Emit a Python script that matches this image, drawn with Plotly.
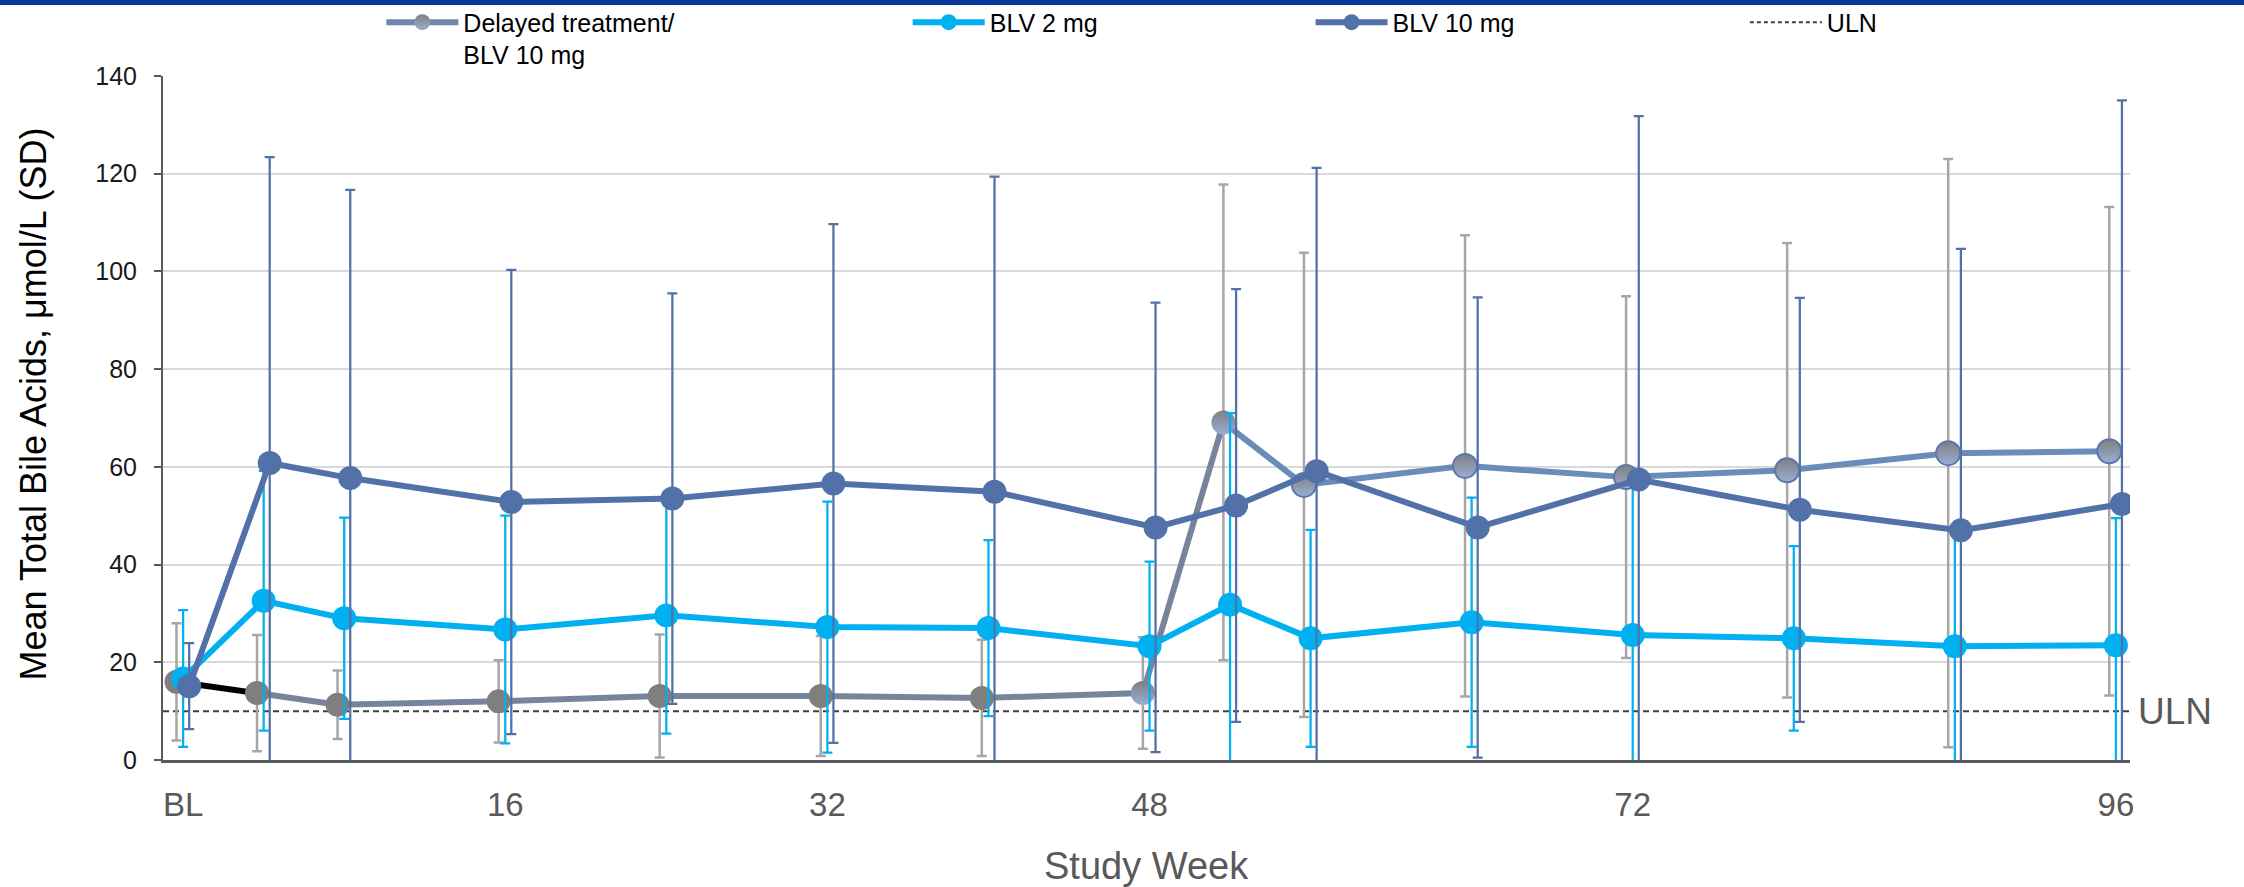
import plotly.graph_objects as go

# ---------------- data ----------------
weeks = [0, 4, 8, 16, 24, 32, 40, 48, 52, 56, 64, 72, 80, 88, 96]

delayed_mean = [16.0, 13.7, 11.3, 12.0, 13.1, 13.1, 12.7, 13.7, 69.1, 56.3, 60.2, 57.9, 59.3, 62.8, 63.2]
delayed_sd = [12.0, 11.9, 7.0, 8.4, 12.6, 12.3, 11.9, 11.4, 48.7, 47.5, 47.2, 37.0, 46.5, 60.2, 50.0]

blv2_mean = [16.7, 32.6, 29.0, 26.7, 29.6, 27.2, 27.0, 23.3, 31.8, 24.9, 28.2, 25.6, 24.9, 23.3, 23.5]
blv2_sd = [14.0, 26.6, 20.6, 23.3, 24.2, 25.7, 18.0, 17.3, 39.2, 22.2, 25.5, 31.9, 18.9, 24.5, 26.0]

blv10_mean = [15.1, 60.8, 57.7, 52.8, 53.5, 56.6, 54.9, 47.6, 52.1, 59.1, 47.6, 57.4, 51.2, 47.0, 52.4]
blv10_sd = [8.8, 62.6, 59.0, 47.5, 42.0, 53.1, 64.5, 46.0, 44.3, 62.1, 47.1, 74.4, 43.4, 57.6, 82.6]

uln_value = 10

tick_vals = [0, 16, 32, 48, 72, 96]
tick_text = ["BL", "16", "32", "48", "72", "96"]

series_names = ["Delayed treatment/<br>BLV 10 mg", "BLV 2 mg", "BLV 10 mg", "ULN"]
x_title = "Study Week"
y_title = "Mean Total Bile Acids, μmol/L (SD)"

# ---------------- style ----------------
FONT = "Liberation Sans, Arial, sans-serif"
C_GRAY = "#7f7f7f"
C_GRAY_ERR = "#a6a6a6"
C_2 = "#00b0f0"
C_10 = "#5271a8"
GRAD = "#9aaed4"
GRAY_SHIFT = -0.33
HI_SHIFT = 0.30
MS = 24
LW = 6

x_gray = [w + GRAY_SHIFT for w in weeks]
x_2 = list(weeks)
x_10 = [w + HI_SHIFT for w in weeks]

n = len(weeks)
grad_types = ["none"] * 7 + ["vertical"] * (n - 7)
outline_w = [0] * 9 + [2] * (n - 9)

fig = go.Figure()

# delayed-treatment line segments (different colours per phase)
segments = [(0, 2, "#000000"), (1, 9, "#77859c"), (8, n, "#6b8bb8")]
for a, b, col in segments:
    fig.add_trace(go.Scatter(x=x_gray[a:b], y=delayed_mean[a:b], mode="lines",
                             line=dict(color=col, width=LW), showlegend=False,
                             hoverinfo="skip"))

# delayed-treatment markers + SD bars
fig.add_trace(go.Scatter(
    x=x_gray, y=delayed_mean, mode="markers", showlegend=False,
    error_y=dict(type="data", array=delayed_sd, visible=True, color=C_GRAY_ERR,
                 thickness=2.5, width=5),
    marker=dict(size=MS, color=C_GRAY,
                gradient=dict(type=grad_types, color=GRAD),
                line=dict(width=outline_w, color="#5a78ad"))))

# BLV 2 mg
fig.add_trace(go.Scatter(
    x=x_2, y=blv2_mean, mode="lines+markers", name=series_names[1], legend="legend2",
    line=dict(color=C_2, width=LW),
    marker=dict(size=MS, color=C_2),
    error_y=dict(type="data", array=blv2_sd, visible=True, color=C_2, thickness=2.25, width=5)))

# BLV 10 mg
fig.add_trace(go.Scatter(
    x=x_10, y=blv10_mean, mode="lines+markers", name=series_names[2], legend="legend3",
    line=dict(color=C_10, width=LW),
    marker=dict(size=MS, color=C_10),
    error_y=dict(type="data", array=blv10_sd, visible=True, color=C_10, thickness=2.25, width=5)))

# legend-only entries
fig.add_trace(go.Scatter(
    x=[None], y=[None], mode="lines+markers", name=series_names[0], legend="legend",
    line=dict(color="#6f87ad", width=LW),
    marker=dict(size=MS, color=C_GRAY, gradient=dict(type="vertical", color=GRAD))))
fig.add_trace(go.Scatter(
    x=[None], y=[None], mode="lines", name=series_names[3], legend="legend4",
    line=dict(color="#404040", width=2, dash="4px,3px")))

# ULN reference line
fig.add_shape(type="line", xref="paper", x0=0, x1=1, yref="y", y0=uln_value, y1=uln_value,
              line=dict(color="#404040", width=2, dash="6px,4px"), layer="below")
fig.add_annotation(text="ULN", xref="paper", x=1.003, xanchor="left", yref="y", y=uln_value,
                   yanchor="middle", showarrow=False, font=dict(family=FONT, size=37, color="#595959"))

# top blue band
fig.add_shape(type="rect", xref="paper", x0=-0.1, x1=1.1, yref="paper", y0=1.1038, y1=1.12,
              fillcolor="#07389a", line=dict(width=0), layer="above")

# axis titles as annotations
fig.add_annotation(text=y_title, xref="paper", x=-0.066, yref="paper", y=0.52, textangle=-90,
                   xanchor="center", yanchor="middle", showarrow=False,
                   font=dict(family=FONT, size=36, color="#000000"))
fig.add_annotation(text=x_title, xref="paper", x=0.5, yref="paper", y=-0.155,
                   xanchor="center", yanchor="middle", showarrow=False,
                   font=dict(family=FONT, size=38, color="#595959"))

leg_common = dict(yanchor="top", y=1.112, xanchor="left", bgcolor="rgba(0,0,0,0)",
                  font=dict(family=FONT, size=25, color="#000000"), itemwidth=72,
                  valign="top", tracegroupgap=0)

fig.update_layout(
    width=2244, height=887,
    margin=dict(l=163, r=114, t=76, b=127, autoexpand=False),
    paper_bgcolor="white", plot_bgcolor="white",
    font=dict(family=FONT),
    legend=dict(x=0.111, **leg_common),
    legend2=dict(x=0.3786, **leg_common),
    legend3=dict(x=0.5834, **leg_common),
    legend4=dict(x=0.8042, **leg_common),
    xaxis=dict(range=[-1.0, 96.7], tickvals=tick_vals, ticktext=tick_text, showgrid=False,
               zeroline=False, showline=True, linecolor="#595959", linewidth=3, ticks="",
               tickfont=dict(family=FONT, size=33, color="#595959"), ticklabelstandoff=13),
    yaxis=dict(range=[0, 140], dtick=20, showgrid=True, gridcolor="#d9d9d9", gridwidth=2,
               zeroline=False, showline=True, linecolor="#595959", linewidth=2,
               ticks="outside", ticklen=7, tickwidth=2, tickcolor="#595959",
               tickfont=dict(family=FONT, size=25, color="#1a1a1a"), ticklabelstandoff=12),
    showlegend=True,
)

fig.write_html("out.html", config={"displayModeBar": False},
               post_script="document.body.style.margin='0';document.body.style.overflow='hidden';")
